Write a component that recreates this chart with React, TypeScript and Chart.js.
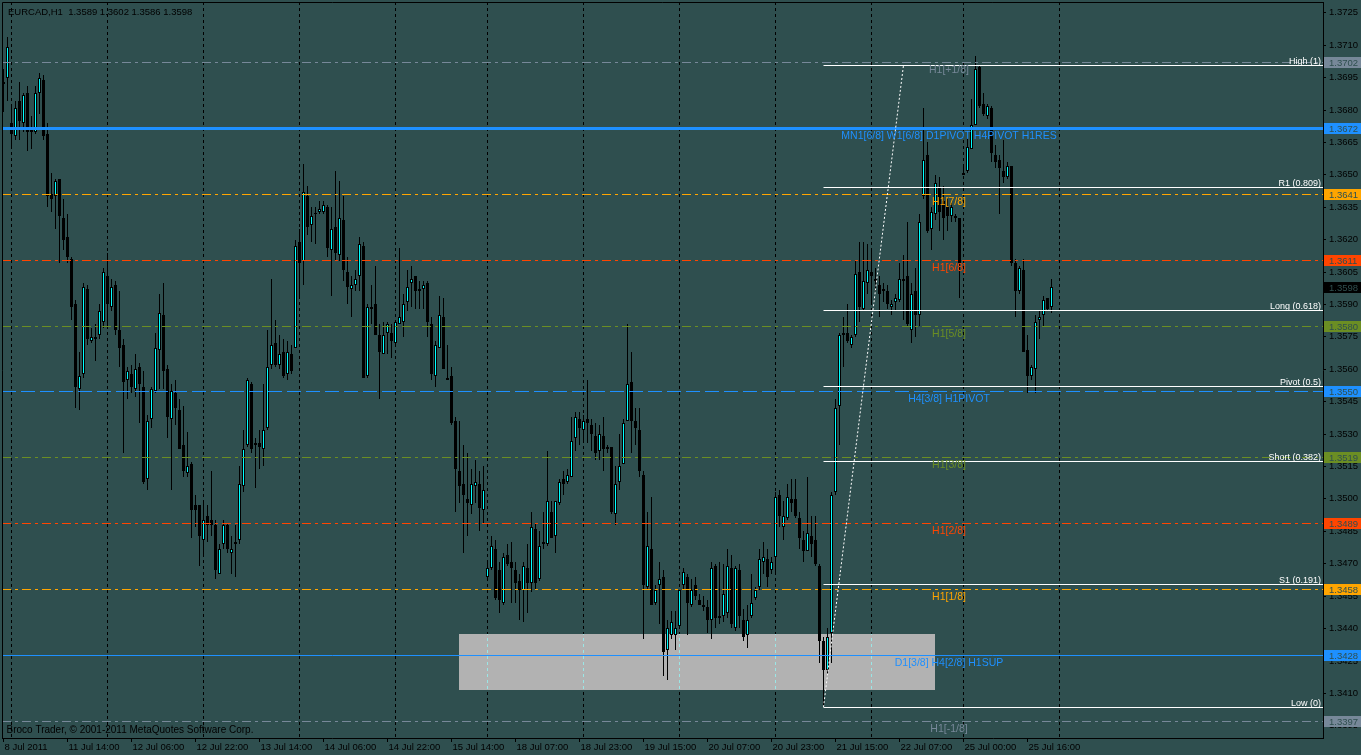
import React, { useEffect, useRef } from "react";
import { Chart, registerables } from "chart.js";

Chart.register(...registerables);

// ---------------- data ----------------
const headerText = "EURCAD,H1  1.3589 1.3602 1.3586 1.3598";
const copyrightText = "Broco Trader, \u00A9 2001-2011 MetaQuotes Software Corp.";

const opens = [
  1.3692, 1.3695, 1.3674, 1.3668, 1.3684, 1.3674, 1.3688, 1.3671, 1.3670, 1.3688,
  1.3694, 1.3669, 1.3641, 1.3640, 1.3648, 1.3630, 1.3621, 1.3611, 1.3590, 1.3551,
  1.3558, 1.3597, 1.3573, 1.3574, 1.3576, 1.3582, 1.3603, 1.3589, 1.3599, 1.3578,
  1.3571, 1.3555, 1.3558, 1.3551, 1.3561, 1.3552, 1.3509, 1.3537, 1.3550, 1.3569,
  1.3585, 1.3560, 1.3537, 1.3549, 1.3541, 1.3525, 1.3512, 1.3516, 1.3497, 1.3497,
  1.3481, 1.3492, 1.3490, 1.3488, 1.3465, 1.3479, 1.3488, 1.3475, 1.3479, 1.3481,
  1.3506, 1.3525, 1.3553, 1.3525, 1.3526, 1.3523, 1.3533, 1.3562, 1.3572, 1.3562,
  1.3568, 1.3558, 1.3567, 1.3570, 1.3619, 1.3610, 1.3640, 1.3627, 1.3632, 1.3633,
  1.3633, 1.3635, 1.3615, 1.3626, 1.3613, 1.3629, 1.3605, 1.3597, 1.3599, 1.3603,
  1.3617, 1.3557, 1.3588, 1.3590, 1.3576, 1.3567, 1.3577, 1.3577, 1.3572, 1.3581,
  1.3582, 1.3591, 1.3600, 1.3603, 1.3597, 1.3597, 1.3600, 1.3581, 1.3557, 1.3570,
  1.3584, 1.3555, 1.3557, 1.3536, 1.3513, 1.3507, 1.3500, 1.3497, 1.3506, 1.3507,
  1.3495, 1.3464, 1.3468, 1.3477, 1.3467, 1.3452, 1.3474, 1.3471, 1.3467, 1.3462,
  1.3458, 1.3468, 1.3461, 1.3486, 1.3463, 1.3479, 1.3479, 1.3494, 1.3483, 1.3498,
  1.3509, 1.3508, 1.3510, 1.3528, 1.3537, 1.3532, 1.3537, 1.3534, 1.3529, 1.3522,
  1.3529, 1.3524, 1.3524, 1.3493, 1.3508, 1.3516, 1.3536, 1.3554, 1.3536, 1.3532,
  1.3511, 1.3459, 1.3477, 1.3452, 1.3460, 1.3464, 1.3430, 1.3437, 1.3437, 1.3441,
  1.3460, 1.3464, 1.3451, 1.3460, 1.3453, 1.3451, 1.3450, 1.3444, 1.3469, 1.3446,
  1.3446, 1.3447, 1.3468, 1.3440, 1.3467, 1.3444, 1.3437, 1.3446, 1.3454, 1.3459,
  1.3471, 1.3472, 1.3467, 1.3473, 1.3502, 1.3487, 1.3491, 1.3500, 1.3500, 1.3491,
  1.3481, 1.3476, 1.3483, 1.3481, 1.3469, 1.3434, 1.3421, 1.3438, 1.3503, 1.3543,
  1.3577, 1.3577, 1.3571, 1.3576, 1.3605, 1.3588, 1.3600, 1.3605, 1.3601, 1.3599,
  1.3597, 1.3596, 1.3589, 1.3591, 1.3592, 1.3601, 1.3603, 1.3578, 1.3596, 1.3585,
  1.3640, 1.3659, 1.3625, 1.3632, 1.3644, 1.3638, 1.3635, 1.3631, 1.3631, 1.3630,
  1.3650, 1.3652, 1.3662, 1.3673, 1.3700, 1.3683, 1.3677, 1.3681, 1.3659, 1.3657,
  1.3652, 1.3649, 1.3654, 1.3609, 1.3596, 1.3606, 1.3569, 1.3557, 1.3560, 1.3583,
  1.3585, 1.3593, 1.3589,
];

const highs = [
  1.3699, 1.3714, 1.3682, 1.3684, 1.3693, 1.3688, 1.3691, 1.3677, 1.3691, 1.3697,
  1.3696, 1.3674, 1.3651, 1.3648, 1.3648, 1.3639, 1.3632, 1.3612, 1.3592, 1.3568,
  1.3600, 1.3599, 1.3579, 1.3581, 1.3590, 1.3607, 1.3614, 1.3602, 1.3601, 1.3596,
  1.3574, 1.3561, 1.3562, 1.3567, 1.3563, 1.3559, 1.3539, 1.3552, 1.3577, 1.3595,
  1.3600, 1.3562, 1.3553, 1.3555, 1.3546, 1.3543, 1.3531, 1.3517, 1.3502, 1.3497,
  1.3498, 1.3497, 1.3513, 1.3490, 1.3479, 1.3490, 1.3489, 1.3483, 1.3488, 1.3515,
  1.3532, 1.3556, 1.3554, 1.3528, 1.3532, 1.3553, 1.3578, 1.3602, 1.3583, 1.3576,
  1.3574, 1.3573, 1.3571, 1.3620, 1.3625, 1.3655, 1.3645, 1.3635, 1.3635, 1.3638,
  1.3638, 1.3636, 1.3635, 1.3652, 1.3647, 1.3640, 1.3612, 1.3603, 1.3606, 1.3621,
  1.3619, 1.3590, 1.3599, 1.3608, 1.3581, 1.3582, 1.3582, 1.3581, 1.3583, 1.3616,
  1.3595, 1.3606, 1.3608, 1.3603, 1.3601, 1.3601, 1.3601, 1.3584, 1.3573, 1.3594,
  1.3593, 1.3571, 1.3561, 1.3538, 1.3536, 1.3525, 1.3521, 1.3514, 1.3518, 1.3513,
  1.3515, 1.3471, 1.3483, 1.3481, 1.3471, 1.3475, 1.3479, 1.3480, 1.3471, 1.3465,
  1.3471, 1.3479, 1.3494, 1.3489, 1.3485, 1.3494, 1.3522, 1.3499, 1.3499, 1.3509,
  1.3513, 1.3514, 1.3538, 1.3540, 1.3540, 1.3539, 1.3555, 1.3537, 1.3535, 1.3534,
  1.3538, 1.3525, 1.3524, 1.3515, 1.3530, 1.3537, 1.3581, 1.3568, 1.3542, 1.3542,
  1.3513, 1.3494, 1.3501, 1.3460, 1.3471, 1.3467, 1.3444, 1.3448, 1.3448, 1.3458,
  1.3468, 1.3465, 1.3463, 1.3464, 1.3456, 1.3455, 1.3453, 1.3471, 1.3470, 1.3471,
  1.3470, 1.3477, 1.3474, 1.3469, 1.3470, 1.3449, 1.3451, 1.3465, 1.3459, 1.3477,
  1.3480, 1.3477, 1.3473, 1.3503, 1.3504, 1.3499, 1.3507, 1.3509, 1.3509, 1.3494,
  1.3485, 1.3510, 1.3492, 1.3492, 1.3470, 1.3436, 1.3440, 1.3503, 1.3546, 1.3577,
  1.3584, 1.3590, 1.3576, 1.3610, 1.3619, 1.3619, 1.3618, 1.3615, 1.3607, 1.3603,
  1.3600, 1.3599, 1.3592, 1.3595, 1.3609, 1.3613, 1.3628, 1.3600, 1.3607, 1.3632,
  1.3681, 1.3665, 1.3635, 1.3650, 1.3649, 1.3645, 1.3639, 1.3637, 1.3632, 1.3630,
  1.3655, 1.3667, 1.3685, 1.3705, 1.3701, 1.3688, 1.3683, 1.3682, 1.3664, 1.3659,
  1.3666, 1.3656, 1.3654, 1.3611, 1.3608, 1.3611, 1.3576, 1.3562, 1.3585, 1.3587,
  1.3594, 1.3593, 1.3602,
];

const lows = [
  1.3679, 1.3684, 1.3663, 1.3666, 1.3666, 1.3670, 1.3661, 1.3662, 1.3669, 1.3678,
  1.3666, 1.3635, 1.3633, 1.3625, 1.3609, 1.3615, 1.3609, 1.3583, 1.3542, 1.3541,
  1.3556, 1.3571, 1.3572, 1.3564, 1.3574, 1.3579, 1.3579, 1.3587, 1.3576, 1.3561,
  1.3521, 1.3546, 1.3549, 1.3547, 1.3535, 1.3507, 1.3504, 1.3533, 1.3549, 1.3551,
  1.3551, 1.3528, 1.3504, 1.3534, 1.3523, 1.3510, 1.3510, 1.3482, 1.3487, 1.3469,
  1.3474, 1.3480, 1.3483, 1.3463, 1.3465, 1.3477, 1.3475, 1.3465, 1.3464, 1.3479,
  1.3503, 1.3524, 1.3521, 1.3505, 1.3514, 1.3515, 1.3532, 1.3560, 1.3561, 1.3560,
  1.3556, 1.3555, 1.3558, 1.3570, 1.3594, 1.3599, 1.3622, 1.3619, 1.3618, 1.3632,
  1.3632, 1.3612, 1.3594, 1.3610, 1.3610, 1.3601, 1.3590, 1.3584, 1.3596, 1.3596,
  1.3556, 1.3556, 1.3581, 1.3576, 1.3546, 1.3567, 1.3567, 1.3565, 1.3571, 1.3581,
  1.3575, 1.3587, 1.3589, 1.3588, 1.3588, 1.3588, 1.3575, 1.3555, 1.3552, 1.3570,
  1.3560, 1.3555, 1.3534, 1.3494, 1.3498, 1.3475, 1.3483, 1.3493, 1.3498, 1.3485,
  1.3489, 1.3463, 1.3467, 1.3453, 1.3447, 1.3451, 1.3469, 1.3452, 1.3452, 1.3444,
  1.3443, 1.3447, 1.3457, 1.3458, 1.3462, 1.3477, 1.3478, 1.3482, 1.3475, 1.3497,
  1.3502, 1.3507, 1.3510, 1.3522, 1.3525, 1.3527, 1.3526, 1.3522, 1.3518, 1.3518,
  1.3513, 1.3521, 1.3493, 1.3488, 1.3504, 1.3516, 1.3536, 1.3521, 1.3525, 1.3510,
  1.3435, 1.3458, 1.3451, 1.3451, 1.3442, 1.3418, 1.3416, 1.3435, 1.3430, 1.3440,
  1.3458, 1.3437, 1.3450, 1.3453, 1.3451, 1.3448, 1.3438, 1.3435, 1.3440, 1.3442,
  1.3443, 1.3445, 1.3440, 1.3439, 1.3440, 1.3434, 1.3431, 1.3445, 1.3453, 1.3458,
  1.3465, 1.3459, 1.3465, 1.3465, 1.3487, 1.3481, 1.3490, 1.3494, 1.3491, 1.3477,
  1.3471, 1.3476, 1.3473, 1.3469, 1.3424, 1.3404, 1.3419, 1.3424, 1.3502, 1.3525,
  1.3561, 1.3572, 1.3570, 1.3575, 1.3582, 1.3587, 1.3595, 1.3591, 1.3596, 1.3584,
  1.3591, 1.3588, 1.3585, 1.3587, 1.3591, 1.3583, 1.3580, 1.3572, 1.3575, 1.3580,
  1.3639, 1.3623, 1.3615, 1.3629, 1.3624, 1.3620, 1.3624, 1.3628, 1.3628, 1.3593,
  1.3650, 1.3651, 1.3662, 1.3673, 1.3681, 1.3677, 1.3676, 1.3656, 1.3653, 1.3632,
  1.3646, 1.3648, 1.3608, 1.3584, 1.3595, 1.3568, 1.3549, 1.3555, 1.3549, 1.3574,
  1.3580, 1.3587, 1.3586,
];

const closes = [
  1.3693, 1.3709, 1.3669, 1.3681, 1.3675, 1.3687, 1.3670, 1.3670, 1.3688, 1.3695,
  1.3668, 1.3640, 1.3639, 1.3647, 1.3631, 1.3620, 1.3612, 1.3589, 1.3552, 1.3557,
  1.3598, 1.3574, 1.3575, 1.3575, 1.3587, 1.3605, 1.3590, 1.3598, 1.3578, 1.3570,
  1.3554, 1.3559, 1.3552, 1.3560, 1.3553, 1.3508, 1.3536, 1.3551, 1.3570, 1.3586,
  1.3559, 1.3538, 1.3550, 1.3542, 1.3523, 1.3513, 1.3515, 1.3495, 1.3495, 1.3483,
  1.3490, 1.3488, 1.3488, 1.3467, 1.3477, 1.3488, 1.3477, 1.3477, 1.3480, 1.3507,
  1.3523, 1.3555, 1.3523, 1.3526, 1.3524, 1.3532, 1.3561, 1.3571, 1.3562, 1.3567,
  1.3557, 1.3568, 1.3559, 1.3617, 1.3609, 1.3642, 1.3626, 1.3631, 1.3632, 1.3634,
  1.3636, 1.3616, 1.3625, 1.3614, 1.3630, 1.3606, 1.3598, 1.3599, 1.3602, 1.3618,
  1.3556, 1.3589, 1.3589, 1.3576, 1.3568, 1.3576, 1.3581, 1.3573, 1.3582, 1.3584,
  1.3590, 1.3598, 1.3602, 1.3596, 1.3596, 1.3599, 1.3582, 1.3558, 1.3571, 1.3585,
  1.3560, 1.3556, 1.3535, 1.3514, 1.3506, 1.3502, 1.3498, 1.3507, 1.3508, 1.3496,
  1.3504, 1.3468, 1.3478, 1.3454, 1.3453, 1.3473, 1.3470, 1.3468, 1.3461, 1.3458,
  1.3469, 1.3461, 1.3487, 1.3461, 1.3478, 1.3480, 1.3499, 1.3482, 1.3499, 1.3508,
  1.3507, 1.3511, 1.3527, 1.3538, 1.3533, 1.3536, 1.3535, 1.3530, 1.3521, 1.3530,
  1.3523, 1.3523, 1.3494, 1.3507, 1.3515, 1.3535, 1.3553, 1.3536, 1.3533, 1.3513,
  1.3460, 1.3478, 1.3451, 1.3458, 1.3463, 1.3429, 1.3440, 1.3443, 1.3440, 1.3458,
  1.3466, 1.3452, 1.3458, 1.3455, 1.3451, 1.3450, 1.3444, 1.3468, 1.3445, 1.3445,
  1.3456, 1.3469, 1.3442, 1.3468, 1.3446, 1.3436, 1.3444, 1.3452, 1.3458, 1.3472,
  1.3473, 1.3464, 1.3471, 1.3501, 1.3492, 1.3492, 1.3501, 1.3498, 1.3492, 1.3482,
  1.3476, 1.3484, 1.3479, 1.3470, 1.3434, 1.3421, 1.3436, 1.3502, 1.3542, 1.3576,
  1.3576, 1.3573, 1.3575, 1.3604, 1.3589, 1.3601, 1.3606, 1.3603, 1.3602, 1.3595,
  1.3596, 1.3590, 1.3590, 1.3593, 1.3602, 1.3602, 1.3581, 1.3595, 1.3585, 1.3628,
  1.3657, 1.3624, 1.3633, 1.3646, 1.3633, 1.3630, 1.3631, 1.3635, 1.3630, 1.3609,
  1.3651, 1.3663, 1.3673, 1.3699, 1.3682, 1.3678, 1.3682, 1.3660, 1.3656, 1.3653,
  1.3649, 1.3654, 1.3609, 1.3596, 1.3607, 1.3568, 1.3557, 1.3561, 1.3582, 1.3584,
  1.3592, 1.3588, 1.3598,
];

// time axis: bar index of each label and the label text
const xTickBars = [0, 16, 32, 48, 64, 80, 96, 112, 128, 144, 160, 176, 192, 208, 224, 240, 256];
const xTickLabels = [
  "8 Jul 2011", "11 Jul 14:00", "12 Jul 06:00", "12 Jul 22:00", "13 Jul 14:00",
  "14 Jul 06:00", "14 Jul 22:00", "15 Jul 14:00", "18 Jul 07:00", "18 Jul 23:00",
  "19 Jul 15:00", "20 Jul 07:00", "20 Jul 23:00", "21 Jul 15:00", "22 Jul 07:00",
  "25 Jul 00:00", "25 Jul 16:00",
];
// day separators (bar index of midnight bars)
const gridBars = [2, 26, 50, 74, 98, 121, 145, 169, 193, 217, 240, 264];

const yTickValues = [
  1.3395, 1.341, 1.3425, 1.344, 1.3455, 1.347, 1.3485, 1.35, 1.3515, 1.353, 1.3545, 1.356,
  1.3575, 1.359, 1.3605, 1.362, 1.3635, 1.365, 1.3665, 1.368, 1.3695, 1.371, 1.3725,
];
const yAxisMin = 1.33893;
const yAxisMax = 1.373;
const xAxisMin = -0.375;
const xAxisMax = 329.875;

// Murrey math levels
const levelPrices = [1.3702, 1.36715, 1.3641, 1.36105, 1.358, 1.35495, 1.3519, 1.34885, 1.3458, 1.34275, 1.3397];
const levelTexts = [
  "H1[+1/8]", "MN1[6/8] W1[6/8] D1PIVOT H4PIVOT H1RES", "H1[7/8]", "H1[6/8]", "H1[5/8]",
  "H4[3/8] H1PIVOT", "H1[3/8]", "H1[2/8]", "H1[1/8]", "D1[3/8] H4[2/8] H1SUP", "H1[-1/8]",
];
const levelAxisTexts = ["1.3702", "1.3672", "1.3641", "1.3611", "1.3580", "1.3550", "1.3519", "1.3489", "1.3458", "1.3428", "1.3397"];
const bidPrice = 1.3598;
const bidText = "1.3598";

// Fibonacci
const fibHigh = 1.37008;
const fibLow = 1.34036;
const fibRatios = [1, 0.809, 0.618, 0.5, 0.382, 0.191, 0];
const fibTexts = ["High (1)", "R1 (0.809)", "Long (0.618)", "Pivot (0.5)", "Short (0.382)", "S1 (0.191)", "Low (0)"];
const fibLowBar = 205;
const fibHighBar = 225;

// support zone rectangle
const zoneTop = 1.34374;
const zoneBottom = 1.34115;
const zoneStartBar = 114;
const zoneEndBar = 233;

// ---------------- styles ----------------
const BG = "#2F4F4F";
const GRAY = "#778899";
const BLUE = "#1E90FF";
const ORANGE = "#FFA500";
const RED = "#FF4500";
const OLIVE = "#6B8E23";
const DASHDOT = [9, 4, 3, 4];
const DASH = [14, 5];
const levelColors = [GRAY, BLUE, ORANGE, RED, OLIVE, BLUE, OLIVE, RED, ORANGE, BLUE, GRAY];
const levelWidths = [1, 3, 1, 1, 1, 1, 1, 1, 1, 1, 1];
const levelDashes = [DASHDOT, [], DASHDOT, DASHDOT, DASHDOT, DASH, DASHDOT, DASHDOT, DASHDOT, [], DASHDOT];
const levelLabelBar = 236.375;
const FONT = "'Liberation Sans', Arial, sans-serif";

const mtPlugin = {
  id: "mt4",
  beforeDraw(chart: any) {
    const { ctx, width, height } = chart;
    ctx.save();
    ctx.fillStyle = BG;
    ctx.fillRect(0, 0, width, height);
    ctx.restore();
  },
  // candles are drawn on whole pixels, as MT4 does
  afterDatasetUpdate(chart: any, args: any) {
    const meta = args.meta;
    if (!meta || meta.type !== "bar") return;
    for (const el of meta.data) {
      const y = Math.round(el.y);
      let b = Math.round(el.base);
      if (Math.abs(y - b) < 1) b = y + 1;
      el.y = y;
      el.base = b;
    }
  },
  beforeDatasetsDraw(chart: any) {
    const { ctx, chartArea: a, scales } = chart;
    const xs = scales.x;
    const ys = scales.y;
    ctx.save();
    ctx.beginPath();
    ctx.rect(a.left, a.top, a.right - a.left, a.bottom - a.top);
    ctx.clip();
    const zl = Math.floor(xs.getPixelForValue(zoneStartBar));
    const zr = Math.floor(xs.getPixelForValue(zoneEndBar));
    const zt = Math.round(ys.getPixelForValue(zoneTop));
    const zb = Math.round(ys.getPixelForValue(zoneBottom));
    ctx.fillStyle = "#B2B2B2";
    ctx.fillRect(zl, zt, zr - zl, zb - zt);
    ctx.lineWidth = 1;
    ctx.setLineDash([3, 3]);
    const drawGrid = (color: string) => {
      ctx.strokeStyle = color;
      for (const b of gridBars) {
        const px = Math.floor(xs.getPixelForValue(b)) + 0.5;
        ctx.beginPath();
        ctx.moveTo(px, a.top);
        ctx.lineTo(px, a.bottom);
        ctx.stroke();
      }
    };
    drawGrid("#000000");
    ctx.beginPath();
    ctx.rect(zl, zt, zr - zl, zb - zt);
    ctx.clip();
    drawGrid("#9AE6E6");
    ctx.restore();
  },
  // keep horizontal 1px / 3px lines on whole device pixels (MT4 draws without anti-aliasing)
  beforeDatasetDraw(chart: any, args: any) {
    const ds: any = chart.data.datasets[args.index];
    if (ds && typeof ds.snapY === "number") {
      const py = chart.scales.y.getPixelForValue(ds.snapY);
      const w = ds.borderWidth || 1;
      const target = w % 2 === 1 ? Math.floor(py) + 0.5 : Math.round(py);
      chart.ctx.save();
      chart.ctx.translate(0, target - py);
      ds._snapped = true;
    }
  },
  afterDatasetDraw(chart: any, args: any) {
    const ds: any = chart.data.datasets[args.index];
    if (ds && ds._snapped) {
      chart.ctx.restore();
      ds._snapped = false;
    }
  },
  afterDatasetsDraw(chart: any) {
    const { ctx, chartArea: a, scales } = chart;
    const xs = scales.x;
    const ys = scales.y;
    ctx.save();
    ctx.setLineDash([]);
    ctx.strokeStyle = "#000";
    ctx.lineWidth = 1;
    ctx.beginPath();
    ctx.moveTo(a.left + 0.5, a.bottom);
    ctx.lineTo(a.left + 0.5, a.top + 0.5);
    ctx.lineTo(a.right, a.top + 0.5);
    ctx.stroke();

    ctx.font = `10.5px ${FONT}`;
    ctx.textAlign = "center";
    ctx.textBaseline = "alphabetic";
    const lx = xs.getPixelForValue(levelLabelBar);
    levelPrices.forEach((p, i) => {
      const py = Math.floor(ys.getPixelForValue(p));
      ctx.fillStyle = levelColors[i];
      ctx.fillText(levelTexts[i], lx, py + 11);
    });

    ctx.font = `9px ${FONT}`;
    ctx.textAlign = "right";
    ctx.fillStyle = "#FFFFFF";
    fibRatios.forEach((r, i) => {
      const py = Math.floor(ys.getPixelForValue(fibLow + r * (fibHigh - fibLow)));
      ctx.fillText(fibTexts[i], a.right - 2, py - 1);
    });

    ctx.textAlign = "left";
    ctx.fillStyle = "#000000";
    ctx.font = `9.5px ${FONT}`;
    ctx.fillText(headerText, 8, 14.5);
    ctx.font = `10px ${FONT}`;
    ctx.fillText(copyrightText, 6.5, 733);
    ctx.restore();
  },
  afterDraw(chart: any) {
    const { ctx, chartArea: a, scales, width } = chart;
    const ys = scales.y;
    ctx.save();
    ctx.font = `9.5px ${FONT}`;
    ctx.textAlign = "left";
    ctx.textBaseline = "middle";
    const boxes = levelPrices.map((p, i) => ({ p, text: levelAxisTexts[i], bg: levelColors[i] }));
    boxes.push({ p: bidPrice, text: bidText, bg: "#000000" });
    for (const b of boxes) {
      const py = Math.floor(ys.getPixelForValue(b.p));
      ctx.fillStyle = b.bg;
      ctx.fillRect(a.right + 1, py - 5, width - a.right - 1, 11);
      ctx.fillStyle = BG;
      ctx.fillText(b.text, a.right + 6, py + 1);
    }
    ctx.restore();
  },
};

export default function App() {
  const ref = useRef<HTMLCanvasElement | null>(null);

  useEffect(() => {
    const canvas = ref.current;
    if (!canvas) return;

    const wickData = opens.map((o, i) => ({
      x: i,
      y: [Math.min(lows[i], o, closes[i]), Math.max(highs[i], o, closes[i])],
    }));
    const bodyData = opens.map((o, i) => ({ x: i, y: [o, closes[i]] }));
    const bodyColors = opens.map((o, i) => (closes[i] > o ? "#00FFFF" : "#000000"));

    const levelSets = levelPrices.map((p, i) => ({
      type: "line",
      snapY: p,
      data: [
        { x: xAxisMin, y: p },
        { x: xAxisMax, y: p },
      ],
      borderColor: levelColors[i],
      borderWidth: levelWidths[i],
      borderDash: levelDashes[i],
      pointRadius: 0,
      fill: false,
      order: 1,
    }));
    const fibSets = fibRatios.map((r) => {
      const v = fibLow + r * (fibHigh - fibLow);
      return {
        type: "line",
        snapY: v,
        data: [
          { x: fibLowBar, y: v },
          { x: xAxisMax, y: v },
        ],
        borderColor: "#FFFFFF",
        borderWidth: 1,
        pointRadius: 0,
        fill: false,
        order: 0,
      };
    });
    const trendSet = {
      type: "line",
      data: [
        { x: fibLowBar, y: fibLow },
        { x: fibHighBar, y: fibHigh },
      ],
      borderColor: "#FFFFFF",
      borderWidth: 1,
      borderDash: [2, 2],
      pointRadius: 0,
      fill: false,
      order: 0,
    };

    const noPad = (s: any) => {
      s.paddingTop = 0;
      s.paddingBottom = 0;
      s.paddingLeft = 0;
      s.paddingRight = 0;
    };

    const chart = new Chart(canvas, {
      type: "bar",
      data: {
        datasets: [
          ...fibSets,
          trendSet,
          ...levelSets,
          {
            type: "bar",
            data: bodyData,
            backgroundColor: bodyColors,
            borderColor: "#000000",
            borderWidth: 1,
            borderSkipped: false,
            grouped: false,
            barPercentage: 1,
            categoryPercentage: 1,
            maxBarThickness: 3,
            minBarLength: 1,
            inflateAmount: 0,
            order: 2,
          },
          {
            type: "bar",
            data: wickData,
            backgroundColor: "#000000",
            borderWidth: 0,
            grouped: false,
            barPercentage: 1,
            categoryPercentage: 1,
            maxBarThickness: 1,
            minBarLength: 1,
            inflateAmount: 0,
            order: 3,
          },
        ] as any,
      },
      options: {
        animation: false,
        responsive: false,
        devicePixelRatio: 1,
        events: [],
        layout: { padding: { left: 2, top: 2, right: 0, bottom: 0 }, autoPadding: false } as any,
        plugins: { legend: { display: false }, tooltip: { enabled: false } },
        scales: {
          x: {
            type: "linear",
            min: xAxisMin,
            max: xAxisMax,
            offset: false,
            position: "bottom",
            grid: { display: true, drawOnChartArea: false, drawTicks: true, tickLength: 4, color: "#000000", lineWidth: 1, offset: false },
            border: { display: true, color: "#000000", width: 1 },
            ticks: {
              autoSkip: false,
              maxRotation: 0,
              minRotation: 0,
              align: "start",
              labelOffset: 1,
              padding: 0,
              color: "#000000",
              font: { family: FONT, size: 9.5 },
              callback: (_v: any, i: number) => xTickLabels[i],
            },
            afterBuildTicks: (s: any) => {
              s.ticks = xTickBars.map((v) => ({ value: v }));
            },
            afterFit: (s: any) => {
              s.height = 17;
              noPad(s);
            },
          },
          y: {
            type: "linear",
            position: "right",
            min: yAxisMin,
            max: yAxisMax,
            beginAtZero: false,
            grid: { display: true, drawOnChartArea: false, drawTicks: true, tickLength: 3, color: "#000000", lineWidth: 1 },
            border: { display: true, color: "#000000", width: 1 },
            ticks: {
              padding: 3,
              color: "#000000",
              font: { family: FONT, size: 9.5 },
              callback: (v: any) => Number(v).toFixed(4),
            },
            afterBuildTicks: (s: any) => {
              s.ticks = yTickValues.map((v) => ({ value: v }));
            },
            afterFit: (s: any) => {
              s.width = 38;
              noPad(s);
            },
          },
        } as any,
      },
      plugins: [mtPlugin],
    } as any);

    return () => chart.destroy();
  }, []);

  return (
    <div style={{ position: "fixed", left: 0, top: 0, width: 1361, height: 755, background: BG }}>
      <canvas ref={ref} width={1361} height={755} style={{ display: "block", width: 1361, height: 755 }} />
    </div>
  );
}
